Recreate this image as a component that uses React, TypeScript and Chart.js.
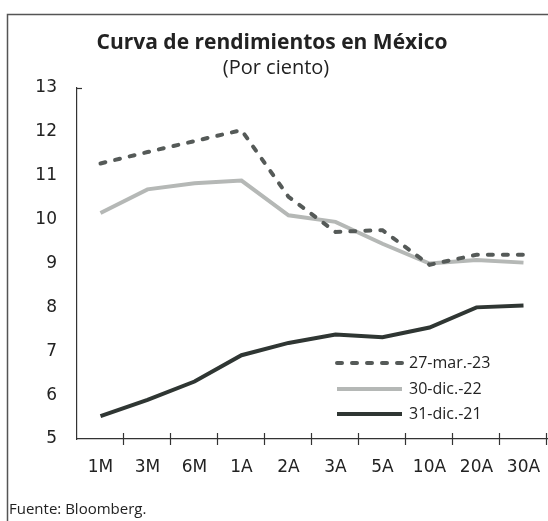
import React, { useEffect, useRef } from "react";
import { Chart, registerables } from "chart.js";

Chart.register(...registerables);

const categories = ["1M", "3M", "6M", "1A", "2A", "3A", "5A", "10A", "20A", "30A"];
const seriesLabels = ["27-mar.-23", "30-dic.-22", "31-dic.-21"];
const mar23 = [11.28, 11.54, 11.79, 12.04, 10.52, 9.72, 9.76, 8.97, 9.2, 9.2];
const dic22 = [10.15, 10.69, 10.83, 10.89, 10.1, 9.95, 9.45, 9.0, 9.08, 9.02];
const dic21 = [5.52, 5.89, 6.31, 6.91, 7.19, 7.38, 7.32, 7.54, 8.0, 8.04];
const yMin = 5;
const yMax = 13;

const FONT = "'Open Sans', sans-serif";
const TICK_FONT = "'DejaVu Sans', sans-serif";

const decorPlugin = {
  id: "decor",
  beforeDraw(chart: any) {
    const ctx = chart.ctx;
    ctx.save();
    ctx.strokeStyle = "#555";
    ctx.lineWidth = 1.5;
    ctx.beginPath();
    ctx.moveTo(7.5, chart.height);
    ctx.lineTo(7.5, 14.5);
    ctx.lineTo(chart.width, 14.5);
    ctx.stroke();
    ctx.restore();
  },
  afterDraw(chart: any) {
    const ctx = chart.ctx;
    const area = chart.chartArea;
    const x = chart.scales.x;
    ctx.save();
    ctx.strokeStyle = "#333";
    ctx.lineWidth = 1.2;
    const n = categories.length;
    for (let i = 1; i <= n; i++) {
      const px = Math.round(x.left + (i * (x.right - x.left)) / n) - 0.5;
      ctx.beginPath();
      ctx.moveTo(px, area.bottom - 6);
      ctx.lineTo(px, area.bottom + 6);
      ctx.stroke();
    }
    ctx.beginPath();
    ctx.moveTo(area.left, area.top + 0.5);
    ctx.lineTo(area.left + 5, area.top + 0.5);
    ctx.stroke();

    const ds = chart.data.datasets;
    const lx0 = area.left + 260;
    const lx1 = area.left + 325;
    const rows = [area.bottom - 76, area.bottom - 50, area.bottom - 25];
    ds.forEach((d: any, i: number) => {
      const y = rows[i];
      ctx.beginPath();
      ctx.setLineDash(d.borderDash || []);
      ctx.lineCap = d.borderCapStyle || "butt";
      ctx.strokeStyle = d.borderColor;
      ctx.lineWidth = d.borderWidth;
      ctx.moveTo(lx0, y);
      ctx.lineTo(lx1, y);
      ctx.stroke();
      ctx.setLineDash([]);
      ctx.fillStyle = "#222";
      ctx.font = `16px ${FONT}`;
      ctx.textBaseline = "middle";
      ctx.textAlign = "left";
      ctx.fillText(d.label, lx1 + 7, y);
    });
    ctx.restore();
  },
};

export default function App() {
  const canvasRef = useRef<HTMLCanvasElement | null>(null);

  useEffect(() => {
    document.body.style.overflow = "hidden";
    const chart = new Chart(canvasRef.current as HTMLCanvasElement, {
      type: "line",
      data: {
        labels: categories,
        datasets: [
          {
            label: seriesLabels[0],
            data: mar23,
            borderColor: "#555a58",
            backgroundColor: "#555a58",
            borderWidth: 4,
            borderDash: [5, 10],
            borderCapStyle: "round",
            pointRadius: 0,
            tension: 0,
          },
          {
            label: seriesLabels[1],
            data: dic22,
            borderColor: "#b5b8b6",
            backgroundColor: "#b5b8b6",
            borderWidth: 4,
            pointRadius: 0,
            tension: 0,
          },
          {
            label: seriesLabels[2],
            data: dic21,
            borderColor: "#2f3633",
            backgroundColor: "#2f3633",
            borderWidth: 4,
            pointRadius: 0,
            tension: 0,
          },
        ],
      },
      options: {
        animation: false,
        responsive: false,
        maintainAspectRatio: false,
        layout: { padding: { top: 88, right: 1, bottom: 42, left: 0 } },
        plugins: {
          legend: { display: false },
          tooltip: { enabled: false },
          title: { display: false },
        },
        scales: {
          x: {
            offset: true,
            grid: { display: false, drawTicks: false },
            border: { display: true, color: "#333", width: 1.2 },
            ticks: {
              padding: 18,
              color: "#222",
              font: { family: TICK_FONT, size: 17 },
              maxRotation: 0,
              autoSkip: false,
            },
            afterFit(scale: any) {
              scale.height = 40;
              scale.paddingLeft = 0;
              scale.paddingRight = 0;
            },
          },
          y: {
            min: yMin,
            max: yMax,
            grid: { display: false, drawTicks: false },
            border: { display: true, color: "#333", width: 1.2 },
            ticks: {
              stepSize: 1,
              padding: 20,
              color: "#222",
              font: { family: TICK_FONT, size: 17 },
            },
            afterFit(scale: any) {
              scale.width = 77;
              scale.paddingTop = 0;
              scale.paddingBottom = 0;
            },
          },
        },
      },
      plugins: [decorPlugin],
    } as any);
    return () => chart.destroy();
  }, []);

  return (
    <div
      style={{
        position: "fixed",
        left: 0,
        top: 0,
        width: 548,
        height: 521,
        overflow: "hidden",
        background: "#fff",
        fontFamily: FONT,
        color: "#222",
      }}
    >
      <canvas
        ref={canvasRef}
        width={548}
        height={521}
        style={{ position: "absolute", left: 0, top: 0, width: 548, height: 521 }}
      />
      <div
        style={{
          position: "absolute",
          left: 0,
          width: 544,
          top: 28,
          textAlign: "center",
          fontSize: 21,
          fontWeight: 700,
          lineHeight: "26px",
        }}
      >
        Curva de rendimientos en México
      </div>
      <div
        style={{
          position: "absolute",
          left: 0,
          width: 552,
          top: 54,
          textAlign: "center",
          fontSize: 20,
          lineHeight: "26px",
        }}
      >
        (Por ciento)
      </div>
      <div
        style={{
          position: "absolute",
          left: 9,
          top: 499,
          fontSize: 15,
          lineHeight: "18px",
        }}
      >
        Fuente: Bloomberg.
      </div>
    </div>
  );
}
